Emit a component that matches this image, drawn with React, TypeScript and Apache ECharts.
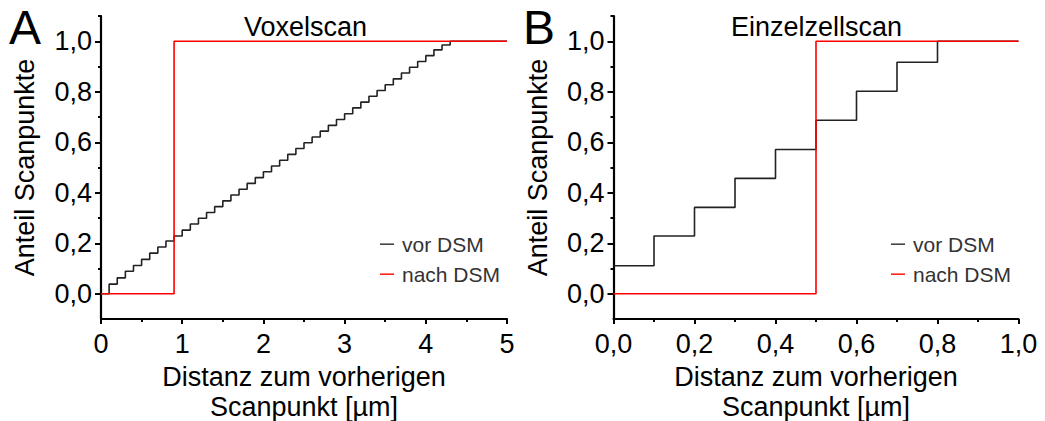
import React, { useEffect, useRef } from 'react';
import * as echarts from 'echarts';

const FONT = 'Liberation Sans';

// Panel A: Voxelscan (cumulative share vs distance)
const voxelX = [0, 0.1, 0.2, 0.3, 0.4, 0.5, 0.6, 0.7, 0.8, 0.9, 1.0, 1.1, 1.2, 1.3, 1.4, 1.5, 1.6, 1.7, 1.8, 1.9, 2.0, 2.1, 2.2, 2.3, 2.4, 2.5, 2.6, 2.7, 2.8, 2.9, 3.0, 3.1, 3.2, 3.3, 3.4, 3.5, 3.6, 3.7, 3.8, 3.9, 4.0, 4.1, 4.2, 4.3, 5.0];
const voxelVor = [0, 0.038, 0.063, 0.089, 0.112, 0.136, 0.161, 0.185, 0.209, 0.229, 0.252, 0.276, 0.299, 0.322, 0.345, 0.368, 0.391, 0.414, 0.437, 0.46, 0.483, 0.506, 0.529, 0.552, 0.575, 0.598, 0.621, 0.644, 0.667, 0.69, 0.713, 0.736, 0.759, 0.782, 0.805, 0.828, 0.851, 0.874, 0.897, 0.92, 0.943, 0.966, 0.985, 1.0, 1.0];
const voxelNachX = [0, 0.9, 5];
const voxelNach = [0, 1, 1];

// Panel B: Einzelzellscan
const zelleX = [0, 0.1, 0.2, 0.3, 0.4, 0.5, 0.6, 0.7, 0.8, 1.0];
const zelleVor = [0.111, 0.229, 0.342, 0.457, 0.571, 0.687, 0.802, 0.917, 1.0, 1.0];
const zelleNachX = [0, 0.5, 1];
const zelleNach = [0, 1, 1];

const yMajor = [0, 0.2, 0.4, 0.6, 0.8, 1.0];
const yMinor = [0.1, 0.3, 0.5, 0.7, 0.9, 1.1];
const legendNames = ['vor DSM', 'nach DSM'];
const xName = 'Distanz zum vorherigen\nScanpunkt [µm]';
const yName = 'Anteil Scanpunkte';

const comma = (v: number) => v.toFixed(1).replace('.', ',');
const pairs = (xs: number[], ys: number[]) => xs.map((x, i) => [x, ys[i]]);

const LABEL = 27;
const NAME = 27;
const black = '#000';

function xAxisDef(gridIndex: number, max: number, interval: number, fmt: (v: number) => string) {
  return {
    type: 'value', gridIndex, min: 0, max, interval, position: 'bottom',
    name: xName, nameLocation: 'middle', nameGap: 34,
    nameTextStyle: { fontFamily: FONT, fontSize: NAME, lineHeight: 29.5, color: black },
    axisLine: { show: true, onZero: false, lineStyle: { color: black, width: 2.2 } },
    axisTick: { show: true, length: 5, lineStyle: { color: black, width: 2 } },
    minorTick: { show: true, splitNumber: 2, length: 3, lineStyle: { color: black, width: 2 } },
    axisLabel: { fontFamily: FONT, fontSize: LABEL, lineHeight: 27, color: black, margin: 11.5, formatter: fmt },
    splitLine: { show: false },
    minorSplitLine: { show: false },
  };
}

function yAxisMain(gridIndex: number) {
  return {
    type: 'value', gridIndex, min: -0.1, max: 1.1, position: 'left',
    name: yName, nameLocation: 'middle', nameGap: 62,
    nameTextStyle: { fontFamily: FONT, fontSize: NAME, lineHeight: 28, color: black },
    axisLine: { show: true, onZero: false, lineStyle: { color: black, width: 2.2 } },
    axisTick: { show: true, length: 6, customValues: yMajor, lineStyle: { color: black, width: 2 } },
    axisLabel: { fontFamily: FONT, fontSize: LABEL, color: black, margin: 9, customValues: yMajor, formatter: comma },
    splitLine: { show: false },
  };
}

function yAxisMinor(gridIndex: number) {
  return {
    type: 'value', gridIndex, min: -0.1, max: 1.1, position: 'left',
    axisLine: { show: false, onZero: false },
    axisTick: { show: true, length: 3, customValues: yMinor, lineStyle: { color: black, width: 2 } },
    axisLabel: { show: false },
    splitLine: { show: false },
  };
}

function legendDef(left: number) {
  return {
    orient: 'vertical', left, top: 233.7, padding: 0, itemGap: 9,
    itemWidth: 14, itemHeight: 1.6, icon: 'rect', selectedMode: false,
    data: [
      { name: legendNames[0], itemStyle: { color: '#444' } },
      { name: legendNames[1], itemStyle: { color: '#ff2020' } },
    ],
    textStyle: { fontFamily: FONT, fontSize: 21, lineHeight: 21, color: '#333', padding: [0, 0, 0, 3] },
  };
}

function lineSeries(name: string, xi: number, yi: number, data: number[][], color: string) {
  return {
    type: 'line', name, xAxisIndex: xi, yAxisIndex: yi, data, step: 'end',
    showSymbol: false, symbol: 'none', clip: false,
    lineStyle: { color, width: 1.6 }, itemStyle: { color },
  };
}

export default function App() {
  const ref = useRef<HTMLDivElement>(null);
  useEffect(() => {
    const chart = echarts.init(ref.current!, null, { renderer: 'svg' });
    const option: any = {
      animation: false,
      grid: [
        { left: 101, top: 16, width: 406, height: 303, containLabel: false, outerBoundsMode: 'none' },
        { left: 613.5, top: 16, width: 405, height: 303, containLabel: false, outerBoundsMode: 'none' },
      ],
      xAxis: [
        xAxisDef(0, 5, 1, (v: number) => String(v)),
        xAxisDef(1, 1, 0.2, comma),
      ],
      yAxis: [yAxisMain(0), yAxisMinor(0), yAxisMain(1), yAxisMinor(1)],
      legend: [legendDef(380), legendDef(891)],
      series: [
        lineSeries(legendNames[0], 0, 0, pairs(voxelX, voxelVor), '#222'),
        lineSeries(legendNames[1], 0, 0, pairs(voxelNachX, voxelNach), '#ff0000'),
        lineSeries(legendNames[0], 1, 2, pairs(zelleX, zelleVor), '#222'),
        lineSeries(legendNames[1], 1, 2, pairs(zelleNachX, zelleNach), '#ff0000'),
      ],
      graphic: [
        { type: 'text', x: 9, y: 27, style: { text: 'A', font: `48px "${FONT}"`, fill: black, align: 'left', verticalAlign: 'middle' } },
        { type: 'text', x: 523, y: 27, style: { text: 'B', font: `48px "${FONT}"`, fill: black, align: 'left', verticalAlign: 'middle' } },
        { type: 'text', x: 305.5, y: 26.5, style: { text: 'Voxelscan', font: `${NAME}px "${FONT}"`, fill: black, align: 'center', verticalAlign: 'middle' } },
        { type: 'text', x: 816.5, y: 26.5, style: { text: 'Einzelzellscan', font: `${NAME}px "${FONT}"`, fill: black, align: 'center', verticalAlign: 'middle' } },
      ],
    };
    chart.setOption(option);
    return () => chart.dispose();
  }, []);
  return <div ref={ref} style={{ position: 'absolute', left: 0, top: 0, width: 1045, height: 421 }} />;
}
